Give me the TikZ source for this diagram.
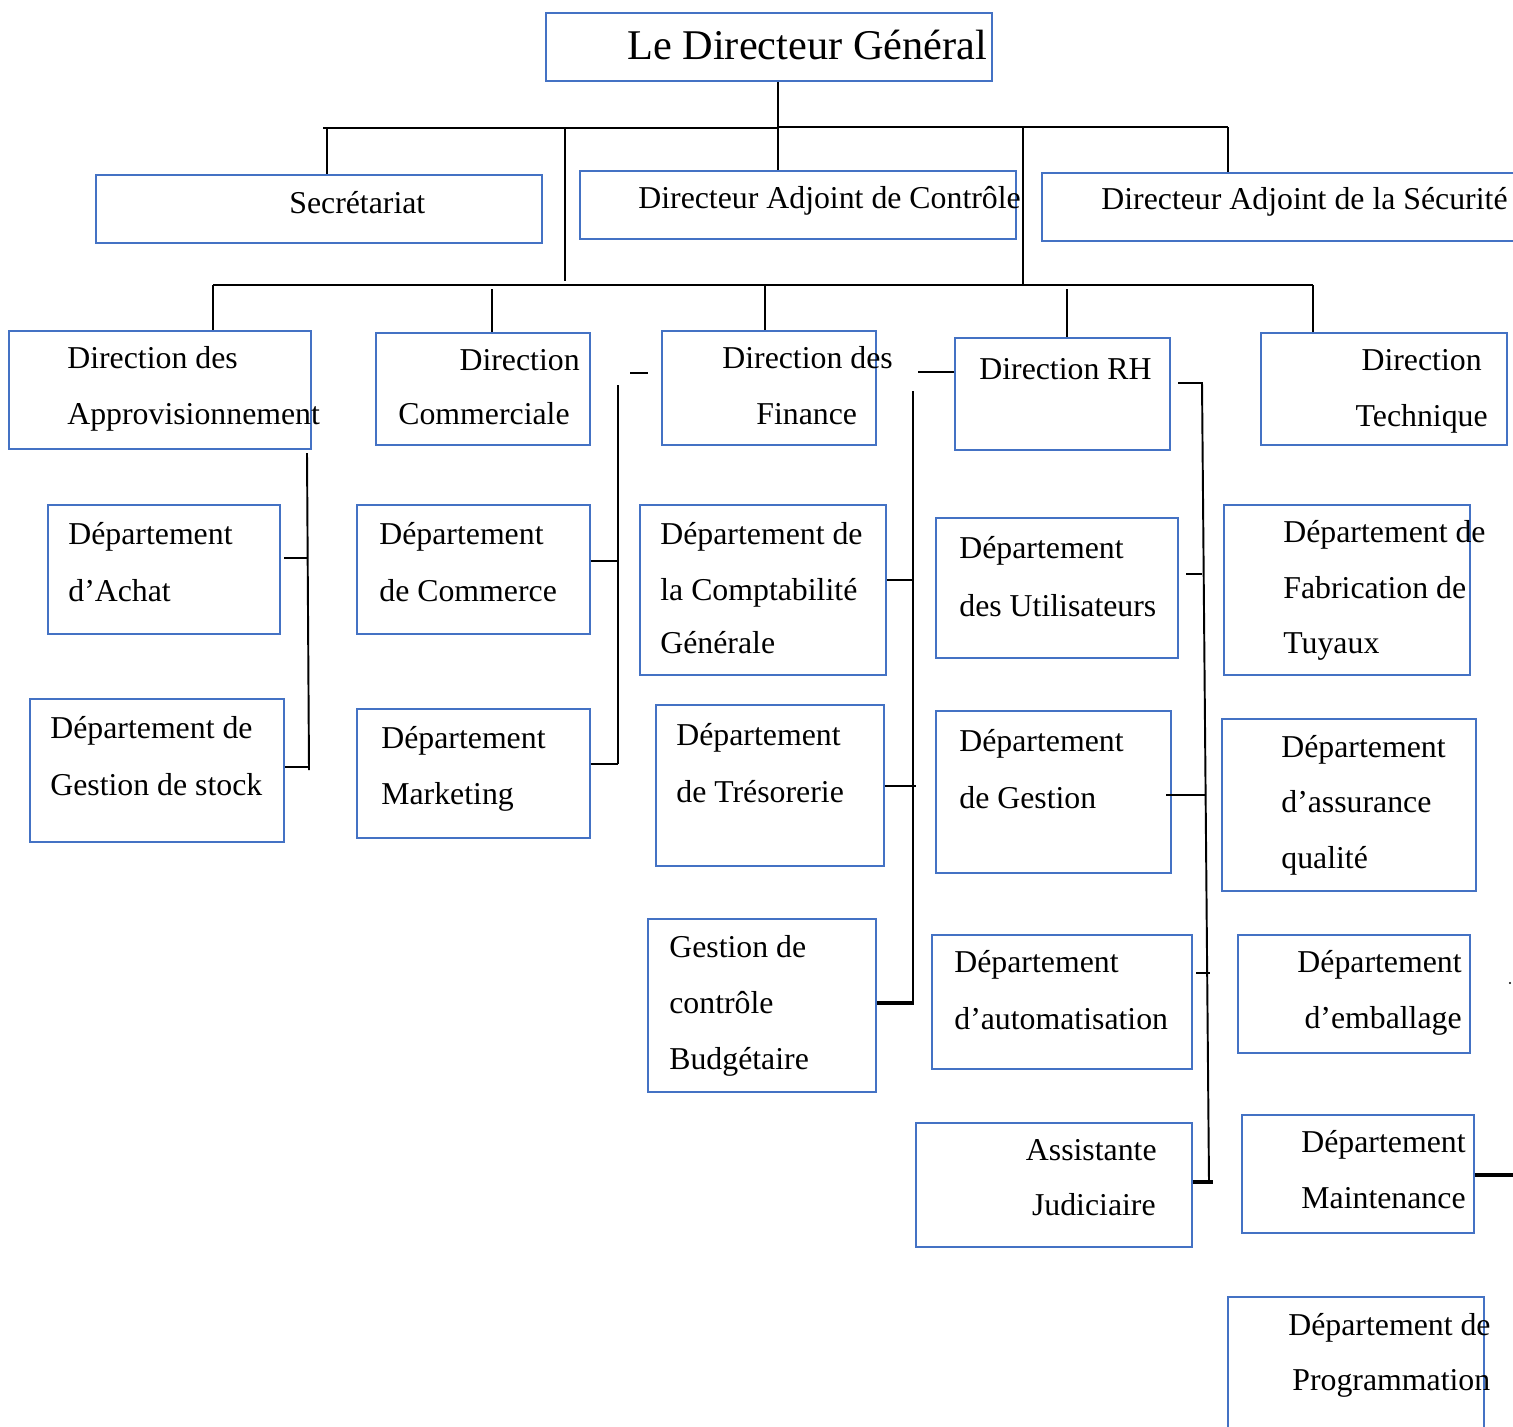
\documentclass[tikz,border=0pt]{standalone}
\usepackage{fontspec}
\setmainfont{Liberation Serif}
\usetikzlibrary{fit}
\definecolor{bordbleu}{RGB}{68,114,196}
\tikzset{
  boite/.style={draw=bordbleu, line width=1.1pt, inner sep=0pt},
  txt/.style={inner sep=0pt, anchor=base west, font=\fontsize{18.1}{21}\selectfont},
  txtd/.style={txt, anchor=base east},
  lien/.style={line width=1.1pt},
  lienfort/.style={line width=2.4pt},
}
\begin{document}
\begin{tikzpicture}[x=0.02cm, y=-0.02cm]
  \useasboundingbox (0,0) rectangle (1513,1426);
  \clip (0,0) rectangle (1513,1426);

  % direction generale
  \node[boite, fit={(546,13) (992,81)}] (dg) {};
  \node[txt, font=\fontsize{24.1}{28}\selectfont] (t-dg) at (627,60) {Le Directeur Général};

  \node[boite, fit={(96,175) (542,243)}] (sec) {};
  \node[txt] (t-sec) at (289,213) {Secrétariat};
  \node[boite, fit={(580,171) (1016,239)}] (ctrl) {};
  \node[txt] (t-ctrl) at (638,208) {Directeur Adjoint de Contrôle};
  \node[boite, fit={(1042,173) (1545,241)}] (secu) {};
  \node[txt] (t-secu) at (1101,209) {Directeur Adjoint de la Sécurité};

  % directions
  \node[boite, fit={(9,331) (311,449)}] (appro) {};
  \node[txt] (t-appro1) at (67,368) {Direction des};
  \node[txt] (t-appro2) at (67,424) {Approvisionnement};
  \node[boite, fit={(376,333) (590,445)}] (comm) {};
  \node[txtd] (t-comm1) at (580,370) {Direction};
  \node[txt] (t-comm2) at (398,424) {Commerciale};
  \node[boite, fit={(662,331) (876,445)}] (fin) {};
  \node[txt] (t-fin1) at (722,368) {Direction des};
  \node[txt] (t-fin2) at (756,424) {Finance};
  \node[boite, fit={(955,338) (1170,450)}] (rh) {};
  \node[txt] (t-rh) at (979,379) {Direction RH};
  \node[boite, fit={(1261,333) (1507,445)}] (tech) {};
  \node[txtd] (t-tech1) at (1482,370) {Direction};
  \node[txtd] (t-tech2) at (1488,426) {Technique};

  % approvisionnement
  \node[boite, fit={(48,505) (280,634)}] (achat) {};
  \node[txt] (t-achat1) at (68,544) {Département};
  \node[txt] (t-achat2) at (68,601) {d’Achat};
  \node[boite, fit={(30,699) (284,842)}] (stock) {};
  \node[txt] (t-stock1) at (50,738) {Département de};
  \node[txt] (t-stock2) at (50,795) {Gestion de stock};

  % commerciale
  \node[boite, fit={(357,505) (590,634)}] (commerce) {};
  \node[txt] (t-commerce1) at (379,544) {Département};
  \node[txt] (t-commerce2) at (379,601) {de Commerce};
  \node[boite, fit={(357,709) (590,838)}] (mark) {};
  \node[txt] (t-mark1) at (381,748) {Département};
  \node[txt] (t-mark2) at (381,804) {Marketing};

  % finance
  \node[boite, fit={(640,505) (886,675)}] (compta) {};
  \node[txt] (t-compta1) at (660,544) {Département de};
  \node[txt] (t-compta2) at (660,600) {la Comptabilité};
  \node[txt] (t-compta3) at (660,653) {Générale};
  \node[boite, fit={(656,705) (884,866)}] (treso) {};
  \node[txt] (t-treso1) at (676,745) {Département};
  \node[txt] (t-treso2) at (676,802) {de Trésorerie};
  \node[boite, fit={(648,919) (876,1092)}] (budget) {};
  \node[txt] (t-budget1) at (669,957) {Gestion de};
  \node[txt] (t-budget2) at (669,1013) {contrôle};
  \node[txt] (t-budget3) at (669,1069) {Budgétaire};

  % RH
  \node[boite, fit={(936,518) (1178,658)}] (util) {};
  \node[txt] (t-util1) at (959,558) {Département};
  \node[txt] (t-util2) at (959,616) {des Utilisateurs};
  \node[boite, fit={(936,711) (1171,873)}] (gest) {};
  \node[txt] (t-gest1) at (959,751) {Département};
  \node[txt] (t-gest2) at (959,808) {de Gestion};
  \node[boite, fit={(932,935) (1192,1069)}] (auto) {};
  \node[txt] (t-auto1) at (954,972) {Département};
  \node[txt] (t-auto2) at (954,1029) {d’automatisation};
  \node[boite, fit={(916,1123) (1192,1247)}] (assist) {};
  \node[txtd] (t-assist1) at (1157,1160) {Assistante};
  \node[txtd] (t-assist2) at (1156,1215) {Judiciaire};

  % technique
  \node[boite, fit={(1224,505) (1470,675)}] (fabr) {};
  \node[txt] (t-fabr1) at (1283,542) {Département de};
  \node[txt] (t-fabr2) at (1283,598) {Fabrication de};
  \node[txt] (t-fabr3) at (1283,653) {Tuyaux};
  \node[boite, fit={(1222,719) (1476,891)}] (qual) {};
  \node[txt] (t-qual1) at (1281,757) {Département};
  \node[txt] (t-qual2) at (1281,812) {d’assurance};
  \node[txt] (t-qual3) at (1281,868) {qualité};
  \node[boite, fit={(1238,935) (1470,1053)}] (emb) {};
  \node[txtd] (t-emb1) at (1462,972) {Département};
  \node[txtd] (t-emb2) at (1462,1028) {d’emballage};
  \node[boite, fit={(1242,1115) (1474,1233)}] (maint) {};
  \node[txt] (t-maint1) at (1301,1152) {Département};
  \node[txt] (t-maint2) at (1301,1208) {Maintenance};
  \node[boite, fit={(1228,1297) (1484,1450)}] (prog) {};
  \node[txt] (t-prog1) at (1288,1335) {Département de};
  \node[txt] (t-prog2) at (1292,1390) {Programmation};

  % liaisons du haut
  \coordinate (bus1g) at (323,128);
  \coordinate (bus1m) at (778,128);
  \coordinate (bus1d) at (1228,127);
  \coordinate (bus2g) at (213,285);
  \coordinate (bus2d) at (1313,285);
  \draw[lien] (dg.south -| bus1m) -- (ctrl.north -| bus1m);
  \draw[lien] (bus1g) -- (bus1m);
  \draw[lien] (778,127) -- (bus1d);
  \draw[lien] (327,128) -- (sec.north -| 327,0);
  \draw[lien] (565,128) -- (565,281);
  \draw[lien] (1023,127) -- (1023,285);
  \draw[lien] (bus1d) -- (secu.north -| bus1d);
  \draw[lien] (bus2g) -- (bus2d);
  \draw[lien] (bus2g) -- (appro.north -| bus2g);
  \draw[lien] (492,289) -- (comm.north -| 492,0);
  \draw[lien] (765,285) -- (fin.north -| 765,0);
  \draw[lien] (1067,289) -- (rh.north -| 1067,0);
  \draw[lien] (bus2d) -- (tech.north -| bus2d);

  % approvisionnement
  \draw[lien] (307,453) -- (309,770);
  \draw[lien] (284,558) -- (307,558);
  \draw[lien] (stock.east |- 0,767) -- (309,767);

  % commerciale
  \draw[lien] (630,373) -- (648,373);
  \draw[lien] (618,385) -- (618,764);
  \draw[lien] (commerce.east |- 0,561) -- (618,561);
  \draw[lien] (mark.east |- 0,764) -- (618,764);

  % finance
  \draw[lien] (918,372) -- (rh.west |- 0,372);
  \draw[lien] (913,391) -- (913,1004);
  \draw[lien] (compta.east |- 0,580) -- (913,580);
  \draw[lien] (treso.east |- 0,786) -- (916,786);
  \draw[lienfort] (budget.east |- 0,1003) -- (914,1003);

  % RH
  \draw[lien] (1178,383) -- (1202,383) -- (1209,1183);
  \draw[lien] (1186,574) -- (1202,574);
  \draw[lien] (1166,795) -- (1205,795);
  \draw[lien] (1196,973) -- (1210,973);
  \draw[lienfort] (assist.east |- 0,1182) -- (1213,1182);

  % technique
  \draw[lienfort] (maint.east |- 0,1175) -- (1513,1175);
  \fill (1510,983) circle (1.2);
\end{tikzpicture}
\end{document}
